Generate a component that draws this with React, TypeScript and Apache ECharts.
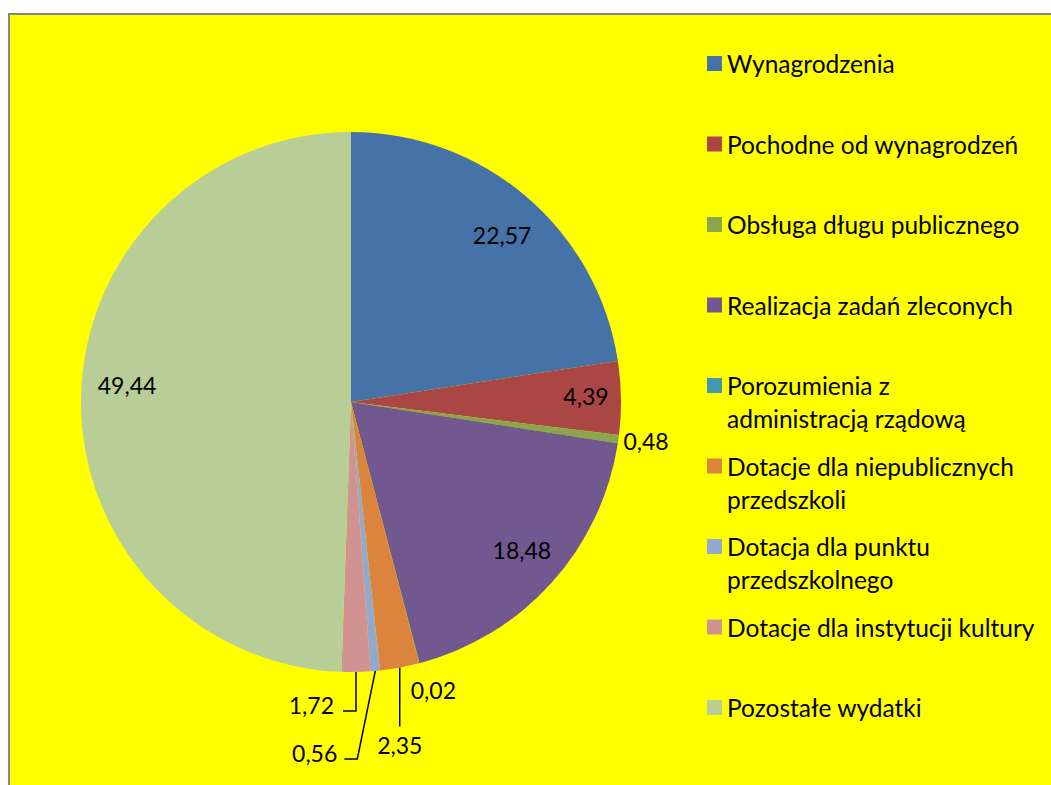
import React, { useEffect, useRef } from "react";
import * as echarts from "echarts";

const categories: string[] = [
  "Wynagrodzenia",
  "Pochodne od wynagrodzeń",
  "Obsługa długu publicznego",
  "Realizacja zadań zleconych",
  "Porozumienia z administracją rządową",
  "Dotacje dla niepublicznych przedszkoli",
  "Dotacja dla punktu przedszkolnego",
  "Dotacje dla instytucji kultury",
  "Pozostałe wydatki",
];

const legendLines: string[][] = [
  ["Wynagrodzenia"],
  ["Pochodne od wynagrodzeń"],
  ["Obsługa długu publicznego"],
  ["Realizacja zadań zleconych"],
  ["Porozumienia z", "administracją rządową"],
  ["Dotacje dla niepublicznych", "przedszkoli"],
  ["Dotacja dla punktu", "przedszkolnego"],
  ["Dotacje dla instytucji kultury"],
  ["Pozostałe wydatki"],
];

const values: number[] = [22.57, 4.39, 0.48, 18.48, 0.02, 2.35, 0.56, 1.72, 49.44];

const colors: string[] = [
  "#4572A7",
  "#AA4643",
  "#89A54E",
  "#71588F",
  "#4198AF",
  "#DB843D",
  "#93A9CF",
  "#D19392",
  "#B9CD96",
];

const insideIdx: number[] = [0, 1, 3, 8];
// small placement nudges for inside labels (layout only)
const insideNudge: Record<number, [number, number]> = {
  0: [4, 5],
  1: [9, -3],
  3: [3, -3],
  8: [2, -13],
};

const CX = 351;
const CY = 402;
const R = 270;
const R_IN = 226;
const FONT = "Lato";

function fmt(v: number): string {
  return v.toFixed(2).replace(".", ",");
}

export default function App() {
  const ref = useRef<HTMLDivElement>(null);

  useEffect(() => {
    if (!ref.current) return;
    const chart = echarts.init(ref.current, undefined, { renderer: "svg" });

    const total = values.reduce((a, b) => a + b, 0);
    const midAngles: number[] = [];
    let cum = 0;
    values.forEach((v) => {
      midAngles.push(((cum + v / 2) / total) * Math.PI * 2);
      cum += v;
    });
    const edge = (i: number, r: number) => [
      CX + r * Math.sin(midAngles[i]),
      CY - r * Math.cos(midAngles[i]),
    ];

    const legends = categories.map((name, i) => {
      const lines = legendLines[i];
      const multi = lines.length > 1;
      const center = 63.5 + i * 80.5;
      return {
        show: true,
        orient: "vertical",
        left: 707,
        top: center - (multi ? 49.5 : 16.5),
        padding: 0,
        itemWidth: 15,
        itemHeight: 15,
        icon: "rect",
        selectedMode: false,
        data: [name],
        formatter: () => (multi ? " \n" + lines.join("\n") : lines[0]),
        textStyle: {
          fontFamily: FONT,
          fontSize: 24.5,
          color: "#000",
          lineHeight: 33,
        },
      };
    });

    const data = categories.map((name, i) => {
      const inside = insideIdx.includes(i);
      const withLine = i === 5 || i === 6 || i === 7;
      return {
        name,
        value: values[i],
        label: { position: inside ? "inside" : "outside" },
        labelLine: { show: withLine },
      };
    });

    chart.setOption({
      animation: false,
      backgroundColor: "#ffffff",
      color: colors,
      graphic: [
        {
          type: "rect",
          z: -10,
          silent: true,
          shape: { x: 9, y: 14, width: 1200, height: 900 },
          style: { fill: "#ffff00", stroke: "#868686", lineWidth: 2 },
        },
      ],
      legend: legends,
      series: [
        {
          type: "pie",
          center: [CX, CY],
          radius: R,
          startAngle: 90,
          clockwise: true,
          avoidLabelOverlap: false,
          silent: true,
          emphasis: { disabled: true },
          itemStyle: { borderWidth: 0 },
          label: {
            show: true,
            fontFamily: FONT,
            fontSize: 23,
            color: "#000",
            formatter: (p: any) => fmt(p.value),
          },
          labelLine: {
            show: false,
            lineStyle: { color: "#000", width: 1.5 },
          },
          labelLayout: (p: any) => {
            const i = p.dataIndex;
            if (insideIdx.includes(i)) {
              const [x, y] = edge(i, R_IN);
              const n = insideNudge[i] || [0, 0];
              return { x: x + n[0], y: y + n[1], align: "center", verticalAlign: "middle" };
            }
            const [sx, sy] = edge(i, R);
            if (i === 2) {
              return { x: sx + 5, y: sy + 2, align: "left", verticalAlign: "middle" };
            }
            if (i === 4) {
              return { x: sx + 14, y: sy + 27, align: "center", verticalAlign: "middle" };
            }
            if (i === 5) {
              return {
                x: sx,
                y: sy + 77,
                align: "center",
                verticalAlign: "middle",
                labelLinePoints: [
                  [sx, sy],
                  [sx, sy + 30],
                  [sx, sy + 59],
                ],
              };
            }
            if (i === 7) {
              return {
                x: sx - 22,
                y: sy + 33,
                align: "right",
                verticalAlign: "middle",
                labelLinePoints: [
                  [sx, sy],
                  [sx, sy + 39],
                  [sx - 13, sy + 39],
                ],
              };
            }
            if (i === 6) {
              return {
                x: sx - 38,
                y: sy + 82,
                align: "right",
                verticalAlign: "middle",
                labelLinePoints: [
                  [sx, sy],
                  [sx - 18, sy + 88],
                  [sx - 31, sy + 88],
                ],
              };
            }
            return {};
          },
          data,
        },
      ],
    });

    return () => chart.dispose();
  }, []);

  return (
    <div
      ref={ref}
      style={{ position: "fixed", left: 0, top: 0, width: 1051, height: 785 }}
    />
  );
}
